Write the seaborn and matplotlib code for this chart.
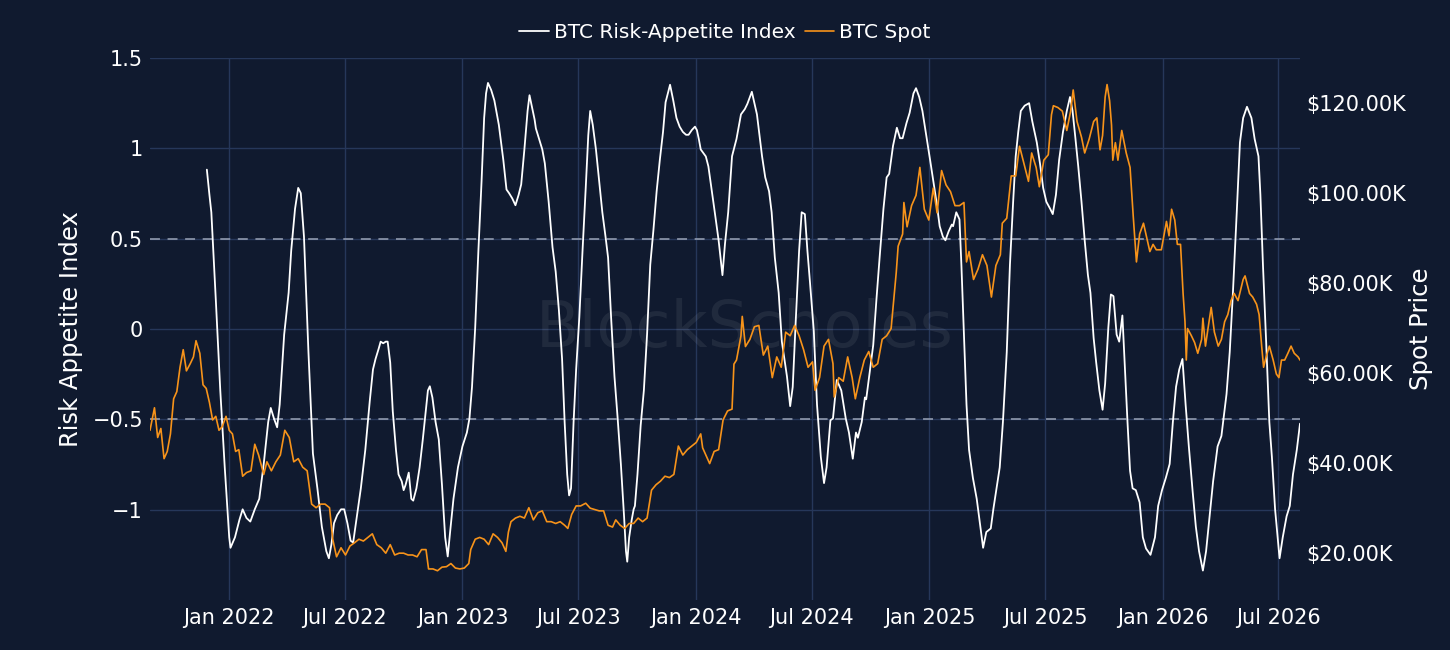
import numpy as np
import pandas as pd
import matplotlib
matplotlib.use("Agg")
import matplotlib.pyplot as plt
import matplotlib.dates as mdates
from matplotlib.ticker import FixedLocator, FuncFormatter
import seaborn as sns

# ---------------- data ----------------
spot_dates = [
    "2021-08-30", "2021-09-06", "2021-09-11", "2021-09-16", "2021-09-21", "2021-09-26", "2021-10-01",
    "2021-10-06", "2021-10-11", "2021-10-16", "2021-10-21", "2021-10-26", "2021-11-01", "2021-11-06",
    "2021-11-10", "2021-11-16", "2021-11-21", "2021-11-26", "2021-12-01", "2021-12-06", "2021-12-11",
    "2021-12-16", "2021-12-21", "2021-12-27", "2022-01-01", "2022-01-06", "2022-01-11", "2022-01-16",
    "2022-01-22", "2022-01-28", "2022-02-04", "2022-02-10", "2022-02-16", "2022-02-24", "2022-03-01",
    "2022-03-08", "2022-03-15", "2022-03-22", "2022-03-29", "2022-04-05", "2022-04-12", "2022-04-19",
    "2022-04-26", "2022-05-03", "2022-05-10", "2022-05-17", "2022-05-24", "2022-05-31", "2022-06-07",
    "2022-06-12", "2022-06-18", "2022-06-25", "2022-07-02", "2022-07-09", "2022-07-16", "2022-07-23",
    "2022-07-30", "2022-08-06", "2022-08-13", "2022-08-20", "2022-08-27", "2022-09-03", "2022-09-10",
    "2022-09-17", "2022-09-24", "2022-10-01", "2022-10-08", "2022-10-15", "2022-10-22", "2022-10-29",
    "2022-11-05", "2022-11-09", "2022-11-16", "2022-11-23", "2022-11-30", "2022-12-07", "2022-12-14",
    "2022-12-21", "2022-12-28", "2023-01-04", "2023-01-11", "2023-01-14", "2023-01-21", "2023-01-28",
    "2023-02-04", "2023-02-11", "2023-02-18", "2023-02-25", "2023-03-04", "2023-03-10", "2023-03-14",
    "2023-03-18", "2023-03-25", "2023-04-01", "2023-04-08", "2023-04-15", "2023-04-22", "2023-04-29",
    "2023-05-06", "2023-05-13", "2023-05-20", "2023-05-27", "2023-06-03", "2023-06-10", "2023-06-15",
    "2023-06-21", "2023-06-28", "2023-07-05", "2023-07-13", "2023-07-20", "2023-07-27", "2023-08-03",
    "2023-08-10", "2023-08-17", "2023-08-24", "2023-08-29", "2023-09-05", "2023-09-12", "2023-09-19",
    "2023-09-26", "2023-10-03", "2023-10-10", "2023-10-17", "2023-10-24", "2023-10-31", "2023-11-07",
    "2023-11-14", "2023-11-21", "2023-11-28", "2023-12-05", "2023-12-12", "2023-12-19", "2023-12-26",
    "2024-01-02", "2024-01-09", "2024-01-12", "2024-01-23", "2024-01-30", "2024-02-06", "2024-02-13",
    "2024-02-20", "2024-02-27", "2024-03-01", "2024-03-05", "2024-03-12", "2024-03-14", "2024-03-19",
    "2024-03-26", "2024-04-02", "2024-04-09", "2024-04-16", "2024-04-23", "2024-04-30", "2024-05-07",
    "2024-05-14", "2024-05-21", "2024-05-28", "2024-06-04", "2024-06-11", "2024-06-18", "2024-06-25",
    "2024-07-02", "2024-07-06", "2024-07-13", "2024-07-20", "2024-07-27", "2024-08-03", "2024-08-05",
    "2024-08-12", "2024-08-19", "2024-08-26", "2024-09-02", "2024-09-07", "2024-09-14", "2024-09-21",
    "2024-09-28", "2024-10-05", "2024-10-12", "2024-10-19", "2024-10-26", "2024-11-02", "2024-11-06",
    "2024-11-10", "2024-11-13", "2024-11-20", "2024-11-22", "2024-11-27", "2024-12-04", "2024-12-11",
    "2024-12-17", "2024-12-24", "2024-12-31", "2025-01-07", "2025-01-13", "2025-01-20", "2025-01-27",
    "2025-02-03", "2025-02-10", "2025-02-17", "2025-02-24", "2025-02-28", "2025-03-04", "2025-03-11",
    "2025-03-18", "2025-03-25", "2025-04-01", "2025-04-08", "2025-04-15", "2025-04-22", "2025-04-25",
    "2025-05-02", "2025-05-09", "2025-05-16", "2025-05-22", "2025-05-29", "2025-06-05", "2025-06-10",
    "2025-06-17", "2025-06-22", "2025-06-29", "2025-07-06", "2025-07-11", "2025-07-14", "2025-07-21",
    "2025-07-28", "2025-08-04", "2025-08-10", "2025-08-14", "2025-08-20", "2025-08-27", "2025-09-01",
    "2025-09-08", "2025-09-15", "2025-09-20", "2025-09-25", "2025-09-29", "2025-10-03", "2025-10-06",
    "2025-10-10", "2025-10-13", "2025-10-15", "2025-10-19", "2025-10-23", "2025-10-29", "2025-11-05",
    "2025-11-11", "2025-11-13", "2025-11-16", "2025-11-21", "2025-11-26", "2025-12-02", "2025-12-07",
    "2025-12-12", "2025-12-17", "2025-12-22", "2025-12-30", "2026-01-07", "2026-01-11", "2026-01-15",
    "2026-01-20", "2026-01-24", "2026-01-29", "2026-02-02", "2026-02-05", "2026-02-07", "2026-02-09",
    "2026-02-15", "2026-02-20", "2026-02-25", "2026-03-03", "2026-03-05", "2026-03-09", "2026-03-13",
    "2026-03-18", "2026-03-23", "2026-03-29", "2026-04-03", "2026-04-08", "2026-04-13", "2026-04-18",
    "2026-04-23", "2026-04-29", "2026-05-07", "2026-05-10", "2026-05-17", "2026-05-22", "2026-05-28",
    "2026-06-01", "2026-06-05", "2026-06-08", "2026-06-12", "2026-06-17", "2026-06-23", "2026-06-28",
    "2026-07-02", "2026-07-06", "2026-07-11", "2026-07-16", "2026-07-21", "2026-07-26", "2026-08-01",
    "2026-08-04",
]
spot_k = [
    47.3, 52.3, 45.7, 47.7, 41.0, 42.6, 46.5,
    54.3, 55.9, 61.3, 65.2, 60.5, 62.1, 63.6,
    67.2, 64.4, 57.4, 56.6, 53.5, 49.6, 50.4,
    47.3, 48.1, 50.4, 47.3, 46.5, 42.6, 43.0,
    37.1, 37.9, 38.3, 44.2, 41.8, 37.5, 40.3,
    38.3, 40.3, 41.8, 47.3, 45.7, 40.3, 41.0,
    39.1, 38.3, 30.9, 30.1, 30.9, 30.9, 30.1,
    23.1, 19.2, 21.2, 19.6, 21.6, 22.3, 23.1,
    22.7, 23.5, 24.3, 21.9, 21.2, 20.0, 21.9,
    19.6, 20.0, 20.0, 19.6, 19.6, 19.2, 20.8,
    20.8, 16.5, 16.5, 16.1, 16.9, 17.0, 17.7,
    16.7, 16.5, 16.7, 17.7, 20.8, 23.1, 23.5,
    23.1, 21.9, 24.3, 23.5, 22.3, 20.4, 24.7,
    27.0, 27.8, 28.2, 27.8, 30.1, 27.4, 29.0,
    29.4, 27.0, 27.0, 26.6, 27.0, 26.2, 25.5,
    28.6, 30.5, 30.5, 31.1, 30.0, 29.7, 29.4,
    29.4, 26.2, 25.8, 27.4, 26.2, 25.5, 26.6,
    26.6, 27.8, 27.0, 27.8, 34.0, 35.2, 36.0,
    37.1, 36.8, 37.5, 43.8, 41.8, 43.0, 43.8,
    44.6, 46.5, 43.4, 39.9, 42.6, 43.0, 49.6,
    51.6, 52.0, 62.0, 62.9, 68.3, 72.6, 65.9,
    67.5, 70.3, 70.6, 64.0, 66.0, 59.0, 63.6,
    61.3, 69.1, 68.3, 70.6, 68.3, 65.2, 61.3,
    62.5, 56.2, 59.0, 66.0, 67.5, 62.1, 54.7,
    59.0, 58.2, 63.6, 59.0, 54.3, 59.0, 62.9,
    64.8, 61.3, 62.1, 67.5, 68.3, 69.9, 76.1,
    82.3, 88.2, 90.9, 97.9, 92.5, 97.2, 99.5,
    105.7, 96.4, 94.0, 101.1, 95.6, 105.0, 101.8,
    100.3, 97.2, 97.2, 97.9, 84.7, 87.0, 80.8,
    83.1, 86.3, 83.9, 76.9, 83.9, 86.3, 93.3,
    94.4, 103.8, 103.8, 110.4, 106.5, 102.6, 108.9,
    105.7, 101.4, 107.3, 108.5, 117.4, 119.4, 119.0,
    118.2, 113.9, 118.2, 122.9, 115.9, 112.4, 108.9,
    112.0, 115.9, 116.7, 109.6, 112.8, 121.3, 124.1,
    120.5, 115.1, 107.3, 111.2, 107.3, 113.9, 108.9,
    105.7, 101.4, 94.8, 84.7, 90.9, 93.3, 90.1,
    87.0, 88.6, 87.4, 87.4, 93.7, 90.5, 96.4,
    94.0, 88.6, 88.6, 77.7, 71.4, 62.9, 69.9,
    68.3, 66.8, 64.4, 67.5, 72.2, 66.0, 69.9,
    74.6, 69.1, 66.0, 67.5, 71.4, 73.0, 76.1,
    77.7, 76.1, 80.8, 81.6, 77.7, 76.9, 75.3,
    73.0, 66.0, 61.3, 63.6, 66.0, 62.9, 59.8,
    59.0, 62.9, 62.9, 64.4, 66.0, 64.4, 63.6,
    62.9,
]

risk_dates = [
    "2021-11-27", "2021-12-01", "2021-12-04", "2021-12-11", "2021-12-18", "2021-12-25", "2022-01-01",
    "2022-01-03", "2022-01-10", "2022-01-17", "2022-01-22", "2022-01-28", "2022-02-03", "2022-02-10",
    "2022-02-17", "2022-02-24", "2022-03-03", "2022-03-07", "2022-03-12", "2022-03-17", "2022-03-21",
    "2022-03-28", "2022-04-04", "2022-04-08", "2022-04-14", "2022-04-19", "2022-04-23", "2022-04-28",
    "2022-05-05", "2022-05-12", "2022-05-19", "2022-05-26", "2022-06-02", "2022-06-06", "2022-06-10",
    "2022-06-14", "2022-06-19", "2022-06-25", "2022-06-30", "2022-07-05", "2022-07-10", "2022-07-14",
    "2022-07-19", "2022-07-26", "2022-08-02", "2022-08-09", "2022-08-14", "2022-08-18", "2022-08-23",
    "2022-08-26", "2022-08-30", "2022-09-03", "2022-09-06", "2022-09-10", "2022-09-14", "2022-09-19",
    "2022-09-23", "2022-09-28", "2022-10-01", "2022-10-04", "2022-10-09", "2022-10-13", "2022-10-16",
    "2022-10-21", "2022-10-26", "2022-10-31", "2022-11-04", "2022-11-08", "2022-11-11", "2022-11-15",
    "2022-11-20", "2022-11-25", "2022-11-30", "2022-12-05", "2022-12-09", "2022-12-13", "2022-12-18",
    "2022-12-25", "2023-01-01", "2023-01-08", "2023-01-12", "2023-01-16", "2023-01-21", "2023-01-26",
    "2023-01-31", "2023-02-04", "2023-02-07", "2023-02-10", "2023-02-15", "2023-02-20", "2023-02-27",
    "2023-03-06", "2023-03-11", "2023-03-15", "2023-03-20", "2023-03-25", "2023-03-30", "2023-04-03",
    "2023-04-08", "2023-04-13", "2023-04-16", "2023-04-20", "2023-04-24", "2023-04-26", "2023-05-01",
    "2023-05-06", "2023-05-10", "2023-05-16", "2023-05-22", "2023-05-27", "2023-06-01", "2023-06-06",
    "2023-06-10", "2023-06-14", "2023-06-17", "2023-06-20", "2023-06-24", "2023-06-28", "2023-07-03",
    "2023-07-08", "2023-07-13", "2023-07-17", "2023-07-20", "2023-07-24", "2023-07-29", "2023-08-03",
    "2023-08-08", "2023-08-13", "2023-08-17", "2023-08-22", "2023-08-27", "2023-09-01", "2023-09-06",
    "2023-09-11", "2023-09-14", "2023-09-16", "2023-09-19", "2023-09-23", "2023-09-26", "2023-09-28",
    "2023-10-02", "2023-10-07", "2023-10-12", "2023-10-17", "2023-10-22", "2023-10-27", "2023-11-01",
    "2023-11-06", "2023-11-11", "2023-11-15", "2023-11-20", "2023-11-22", "2023-11-27", "2023-12-02",
    "2023-12-07", "2023-12-12", "2023-12-17", "2023-12-21", "2023-12-26", "2023-12-31", "2024-01-03",
    "2024-01-06", "2024-01-09", "2024-01-13", "2024-01-17", "2024-01-21", "2024-01-25", "2024-01-31",
    "2024-02-06", "2024-02-12", "2024-02-16", "2024-02-21", "2024-02-27", "2024-03-05", "2024-03-12",
    "2024-03-18", "2024-03-22", "2024-03-29", "2024-04-06", "2024-04-14", "2024-04-19", "2024-04-25",
    "2024-04-29", "2024-05-04", "2024-05-10", "2024-05-15", "2024-05-23", "2024-05-28", "2024-06-01",
    "2024-06-06", "2024-06-11", "2024-06-15", "2024-06-20", "2024-06-24", "2024-06-28", "2024-07-04",
    "2024-07-09", "2024-07-15", "2024-07-20", "2024-07-24", "2024-07-30", "2024-08-03", "2024-08-09",
    "2024-08-16", "2024-08-23", "2024-08-28", "2024-09-03", "2024-09-08", "2024-09-11", "2024-09-17",
    "2024-09-22", "2024-09-24", "2024-09-30", "2024-10-05", "2024-10-10", "2024-10-15", "2024-10-21",
    "2024-10-26", "2024-10-30", "2024-11-05", "2024-11-11", "2024-11-16", "2024-11-20", "2024-11-26",
    "2024-12-01", "2024-12-07", "2024-12-11", "2024-12-16", "2024-12-21", "2024-12-27", "2025-01-02",
    "2025-01-07", "2025-01-12", "2025-01-17", "2025-01-22", "2025-01-26", "2025-01-31", "2025-02-05",
    "2025-02-07", "2025-02-12", "2025-02-17", "2025-02-20", "2025-02-24", "2025-02-28", "2025-03-04",
    "2025-03-10", "2025-03-16", "2025-03-21", "2025-03-26", "2025-03-31", "2025-04-07", "2025-04-11",
    "2025-04-16", "2025-04-21", "2025-04-26", "2025-05-02", "2025-05-07", "2025-05-12", "2025-05-16",
    "2025-05-20", "2025-05-24", "2025-05-30", "2025-06-06", "2025-06-11", "2025-06-18", "2025-06-23",
    "2025-06-28", "2025-07-03", "2025-07-09", "2025-07-13", "2025-07-18", "2025-07-23", "2025-07-29",
    "2025-08-04", "2025-08-09", "2025-08-13", "2025-08-17", "2025-08-22", "2025-08-27", "2025-09-01",
    "2025-09-06", "2025-09-10", "2025-09-15", "2025-09-19", "2025-09-24", "2025-09-29", "2025-10-03",
    "2025-10-08", "2025-10-12", "2025-10-16", "2025-10-21", "2025-10-25", "2025-10-30", "2025-11-03",
    "2025-11-07", "2025-11-11", "2025-11-15", "2025-11-20", "2025-11-26", "2025-12-01", "2025-12-06",
    "2025-12-13", "2025-12-20", "2025-12-25", "2025-12-31", "2026-01-06", "2026-01-12", "2026-01-17",
    "2026-01-22", "2026-01-27", "2026-02-01", "2026-02-06", "2026-02-11", "2026-02-17", "2026-02-22",
    "2026-02-27", "2026-03-05", "2026-03-10", "2026-03-15", "2026-03-21", "2026-03-28", "2026-04-03",
    "2026-04-11", "2026-04-16", "2026-04-21", "2026-04-27", "2026-05-02", "2026-05-07", "2026-05-13",
    "2026-05-20", "2026-05-25", "2026-05-31", "2026-06-03", "2026-06-07", "2026-06-12", "2026-06-17",
    "2026-06-21", "2026-06-26", "2026-06-30", "2026-07-03", "2026-07-08", "2026-07-14", "2026-07-19",
    "2026-07-24", "2026-07-30", "2026-08-04",
]
risk_values = [
    0.882, 0.743, 0.646, 0.162, -0.340, -0.766, -1.153,
    -1.211, -1.153, -1.056, -0.998, -1.046, -1.066, -0.998,
    -0.940, -0.747, -0.515, -0.437, -0.495, -0.544, -0.418,
    -0.031, 0.201, 0.433, 0.665, 0.781, 0.752, 0.511,
    -0.128, -0.689, -0.882, -1.095, -1.230, -1.269, -1.191,
    -1.075, -1.030, -0.998, -0.998, -1.075, -1.172, -1.182,
    -1.056, -0.882, -0.669, -0.398, -0.224, -0.166, -0.108,
    -0.070, -0.079, -0.070, -0.070, -0.186, -0.456, -0.669,
    -0.805, -0.843, -0.892, -0.863, -0.795, -0.940, -0.950,
    -0.882, -0.766, -0.611, -0.476, -0.340, -0.317, -0.379,
    -0.515, -0.611, -0.863, -1.153, -1.259, -1.114, -0.940,
    -0.766, -0.650, -0.573, -0.495, -0.321, 0.008, 0.433,
    0.820, 1.168, 1.304, 1.362, 1.323, 1.265, 1.130,
    0.936, 0.772, 0.752, 0.723, 0.685, 0.743, 0.800,
    0.994, 1.207, 1.294, 1.226, 1.159, 1.110, 1.052,
    0.994, 0.917, 0.704, 0.453, 0.317, 0.104, -0.166,
    -0.515, -0.805, -0.921, -0.882, -0.515, -0.224, 0.066,
    0.433, 0.781, 1.072, 1.207, 1.130, 0.994, 0.820,
    0.646, 0.511, 0.395, 0.046, -0.263, -0.495, -0.747,
    -1.037, -1.230, -1.288, -1.153, -1.056, -0.998, -0.979,
    -0.805, -0.534, -0.340, -0.031, 0.356, 0.549, 0.762,
    0.936, 1.091, 1.255, 1.323, 1.352, 1.265, 1.168,
    1.120, 1.091, 1.075, 1.075, 1.101, 1.120, 1.101,
    1.052, 0.994, 0.975, 0.955, 0.900, 0.800, 0.646,
    0.491, 0.298, 0.472, 0.646, 0.956, 1.052, 1.188,
    1.217, 1.246, 1.313, 1.188, 0.956, 0.839, 0.762,
    0.646, 0.395, 0.201, -0.070, -0.263, -0.427, -0.321,
    0.066, 0.433, 0.646, 0.636, 0.433, 0.259, -0.012,
    -0.418, -0.708, -0.853, -0.766, -0.505, -0.495, -0.282,
    -0.340, -0.495, -0.573, -0.718, -0.573, -0.602, -0.515,
    -0.379, -0.389, -0.224, -0.089, 0.162, 0.395, 0.665,
    0.839, 0.859, 1.014, 1.114, 1.056, 1.056, 1.139,
    1.197, 1.304, 1.333, 1.284, 1.207, 1.072, 0.936,
    0.820, 0.704, 0.569, 0.511, 0.491, 0.540, 0.578,
    0.569, 0.646, 0.607, 0.356, -0.031, -0.418, -0.669,
    -0.824, -0.940, -1.075, -1.211, -1.124, -1.104, -0.998,
    -0.882, -0.766, -0.515, -0.128, 0.356, 0.704, 0.956,
    1.091, 1.207, 1.236, 1.250, 1.149, 1.033, 0.917,
    0.781, 0.704, 0.665, 0.636, 0.743, 0.936, 1.091,
    1.207, 1.284, 1.207, 1.072, 0.897, 0.704, 0.491,
    0.300, 0.200, -0.050, -0.186, -0.340, -0.447, -0.302,
    0.008, 0.191, 0.182, -0.031, -0.070, 0.075, -0.224,
    -0.515, -0.785, -0.882, -0.892, -0.960, -1.153, -1.215,
    -1.250, -1.153, -0.979, -0.892, -0.824, -0.747, -0.515,
    -0.320, -0.224, -0.166, -0.420, -0.650, -0.901, -1.095,
    -1.230, -1.337, -1.230, -1.056, -0.843, -0.650, -0.592,
    -0.360, -0.128, 0.201, 0.646, 1.033, 1.168, 1.230,
    1.168, 1.052, 0.956, 0.743, 0.356, -0.070, -0.515,
    -0.708, -0.998, -1.153, -1.269, -1.153, -1.037, -0.979,
    -0.805, -0.669, -0.524,
]

risk_label = "BTC Risk-Appetite Index"
spot_label = "BTC Spot"
left_ticks = [-1, -0.5, 0, 0.5, 1, 1.5]
right_ticks = [20000, 40000, 60000, 80000, 100000, 120000]

# ---------------- style ----------------
BG = "#101a2f"
GRID = "#26375a"
ORANGE = "#f7931a"

sns.set_theme(style="dark", rc={"axes.facecolor": BG, "figure.facecolor": BG,
                                "savefig.facecolor": BG})
plt.rcParams["font.family"] = ["DejaVu Sans"]

risk = pd.DataFrame({"date": pd.to_datetime(risk_dates), "value": risk_values})
spot = pd.DataFrame({"date": pd.to_datetime(spot_dates), "price": np.array(spot_k) * 1000.0})

fig = plt.figure(figsize=(14.5, 6.5), dpi=100)
ax = fig.add_axes([150 / 1450, 50 / 650, 1150 / 1450, 542 / 650])
ax.set_facecolor(BG)

sns.lineplot(data=risk, x="date", y="value", ax=ax, color="white", lw=1.3,
             label=risk_label, legend=False, zorder=3)
h_risk = ax.lines[0]

ax2 = ax.twinx()
sns.lineplot(data=spot, x="date", y="price", ax=ax2, color=ORANGE, lw=1.2,
             label=spot_label, legend=False, zorder=3)
h_spot = ax2.lines[0]

for v in (0.5, -0.5):
    ax.axhline(v, color="#9aa3b6", lw=1.1, ls=(0, (6.5, 5)), zorder=2)

# axes ranges / ticks
ax.set_xlim(spot["date"].min(), spot["date"].max())
ax.set_ylim(-1.5, 1.5)
ax2.set_ylim(9600, 130000)

ax.yaxis.set_major_locator(FixedLocator(left_ticks))
ax.yaxis.set_major_formatter(FuncFormatter(lambda v, p: f"{v:g}".replace("-", "\u2212")))
ax2.yaxis.set_major_locator(FixedLocator(right_ticks))
ax2.yaxis.set_major_formatter(FuncFormatter(lambda v, p: f"${v/1000:.2f}K"))
ax.xaxis.set_major_locator(mdates.MonthLocator(bymonth=[1, 7]))
ax.xaxis.set_major_formatter(mdates.DateFormatter("%b %Y"))

ax.grid(True, color=GRID, lw=1.0, zorder=0)
ax2.grid(False)
ax.set_axisbelow(True)

ax.tick_params(axis="y", length=0, colors="white", labelsize=15, pad=5)
ax.tick_params(axis="x", length=0, colors="white", labelsize=15, pad=6)
ax2.tick_params(axis="y", length=0, colors="white", labelsize=15, pad=4.5)
for a in (ax, ax2):
    for s in a.spines.values():
        s.set_visible(False)

ax.set_xlabel("")
ax.set_ylabel("Risk Appetite Index", color="white", fontsize=17.5)
ax.yaxis.set_label_coords(-0.0583, 0.5)
ax2.set_ylabel("Spot Price", color="white", fontsize=17.5)
ax2.yaxis.set_label_coords(1.0948, 0.5)

# watermark
ax.text(0.517, 0.5, "BlockScholes", transform=ax.transAxes, ha="center", va="center",
        fontsize=46, color="white", alpha=0.07, zorder=1)

fig.legend(handles=[h_risk, h_spot], labels=[risk_label, spot_label], loc="center",
           bbox_to_anchor=(0.5, 1 - 33 / 650), ncol=2, frameon=False, fontsize=14.5,
           labelcolor="white", handlelength=1.47, handletextpad=0.25, columnspacing=0.45)

fig.savefig("out.png", dpi=100, facecolor=BG)
